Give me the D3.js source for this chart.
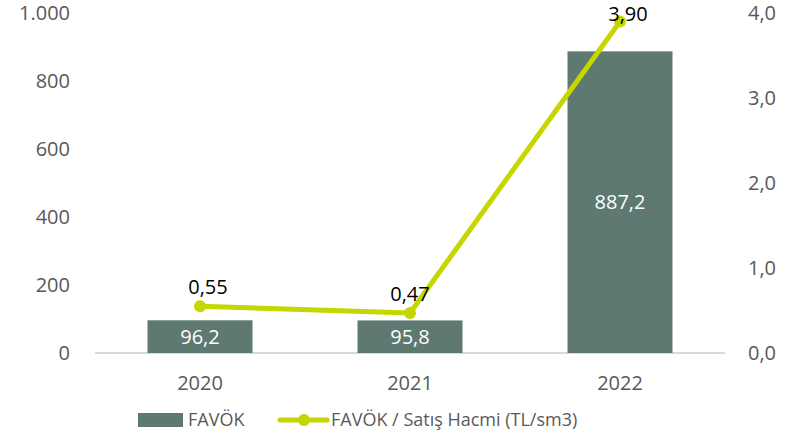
<!DOCTYPE html>
<html>
<head>
<meta charset="utf-8">
<script src="https://cdn.jsdelivr.net/npm/d3@7"></script>
<style>
  body { margin: 0; background: #fff; }
  svg text { font-family: "Open Sans", "Liberation Sans", sans-serif; }
</style>
</head>
<body>
<div id="chart"></div>
<script>
const years = ["2020", "2021", "2022"];
const favok = [96.2, 95.8, 887.2];
const ratio = [0.55, 0.47, 3.90];
const leftTicks = [0, 200, 400, 600, 800, 1000];
const rightTicks = [0, 1, 2, 3, 4];

const W = 808, H = 439;
const margin = { left: 95, right: 83, top: 13, bottom: 86 };
const barColor = "#5e7872";
const lineColor = "#c5d600";
const textColor = "#595959";

const fmtLeft = d => d3.format(",")(d).replace(/,/g, ".");
const fmtRight = d => d.toFixed(1).replace(".", ",");
const fmtBar = d => d.toFixed(1).replace(".", ",");
const fmtLine = d => d.toFixed(2).replace(".", ",");

const svg = d3.select("#chart").append("svg")
  .attr("width", W)
  .attr("height", H);

const x = d3.scaleBand().domain(years)
  .range([margin.left, W - margin.right])
  .paddingInner(0.5).paddingOuter(0.25);

const yL = d3.scaleLinear().domain([0, 1000]).range([H - margin.bottom, margin.top]);
const yR = d3.scaleLinear().domain([0, 4]).range([H - margin.bottom, margin.top]);

// left axis
svg.append("g")
  .attr("transform", `translate(${margin.left - 22},0)`)
  .call(d3.axisLeft(yL).tickValues(leftTicks).tickFormat(fmtLeft).tickSize(0))
  .call(g => g.select(".domain").remove())
  .call(g => g.selectAll("text").attr("fill", textColor).style("font-size", "20px").attr("dx", 0));

// right axis
svg.append("g")
  .attr("transform", `translate(${W - margin.right + 20},0)`)
  .call(d3.axisRight(yR).tickValues(rightTicks).tickFormat(fmtRight).tickSize(0))
  .call(g => g.select(".domain").remove())
  .call(g => g.selectAll("text").attr("fill", textColor).style("font-size", "20px").attr("dx", 0));

// bottom axis
svg.append("g")
  .attr("transform", `translate(0,${yL(0)})`)
  .call(d3.axisBottom(x).tickSize(0).tickPadding(23))
  .call(g => g.select(".domain").attr("stroke", "#d9d9d9").attr("stroke-width", 2)
    .attr("d", `M${margin.left},0H${W - margin.right}`))
  .call(g => g.selectAll("text").attr("fill", textColor).style("font-size", "20px"));

// bars
svg.append("g").selectAll("rect")
  .data(favok).enter()
  .append("rect")
    .attr("x", (d, i) => x(years[i]))
    .attr("y", d => yL(d))
    .attr("width", x.bandwidth())
    .attr("height", d => yL(0) - yL(d))
    .attr("fill", barColor);

svg.append("g").selectAll("text")
  .data(favok).enter()
  .append("text")
    .attr("x", (d, i) => x(years[i]) + x.bandwidth() / 2)
    .attr("y", d => (yL(d) + yL(0)) / 2)
    .attr("dy", "0.35em")
    .attr("text-anchor", "middle")
    .attr("fill", "#fff")
    .style("font-size", "20px")
    .text(fmtBar);

// line
const cx = (d, i) => x(years[i]) + x.bandwidth() / 2;
const line = d3.line().x(cx).y(d => yR(d));

svg.append("path")
  .datum(ratio)
  .attr("d", line)
  .attr("fill", "none")
  .attr("stroke", lineColor)
  .attr("stroke-width", 5)
  .attr("stroke-linejoin", "round");

svg.append("g").selectAll("circle")
  .data(ratio).enter()
  .append("circle")
    .attr("cx", cx)
    .attr("cy", d => yR(d))
    .attr("r", 6)
    .attr("fill", lineColor);

// labels sit above the point, but not above the top of the plot
svg.append("g").selectAll("text")
  .data(ratio).enter()
  .append("text")
    .attr("x", (d, i) => cx(d, i) + (i === 1 ? 0 : 8))
    .attr("y", d => Math.max(yR(d) - 12, 21))
    .attr("text-anchor", "middle")
    .attr("fill", "#000")
    .style("font-size", "20px")
    .text(fmtLine);

// legend
const leg = svg.append("g").attr("transform", "translate(0,420)");
leg.append("rect")
  .attr("x", 138).attr("y", -7).attr("width", 45).attr("height", 14)
  .attr("fill", barColor);
leg.append("text")
  .attr("x", 188).attr("y", 0).attr("dy", "0.35em")
  .attr("fill", textColor).style("font-size", "18px")
  .text("FAVÖK");
leg.append("line")
  .attr("x1", 280).attr("x2", 327).attr("y1", 0).attr("y2", 0)
  .attr("stroke", lineColor).attr("stroke-width", 5).attr("stroke-linecap", "round");
leg.append("circle")
  .attr("cx", 304).attr("cy", 0).attr("r", 6).attr("fill", lineColor);
leg.append("text")
  .attr("x", 331).attr("y", 0).attr("dy", "0.35em")
  .attr("fill", textColor).style("font-size", "18px")
  .text("FAVÖK / Satış Hacmi (TL/sm3)");
</script>
</body>
</html>
